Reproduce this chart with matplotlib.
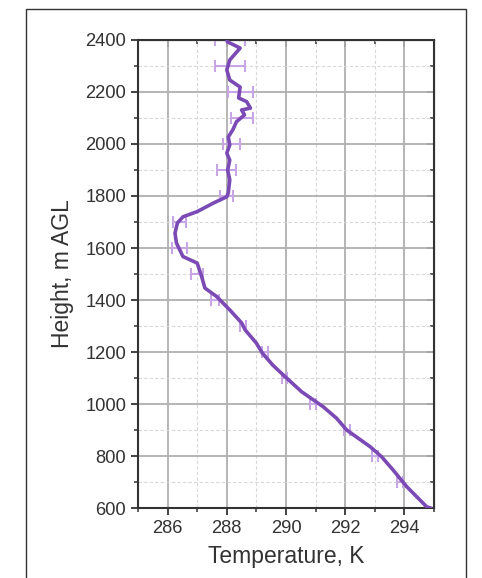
import numpy as np
import matplotlib.pyplot as plt
from matplotlib.patches import Rectangle
from matplotlib.ticker import MultipleLocator

plt.rcParams['font.family'] = ['Liberation Sans', 'DejaVu Sans']

# temperature profile
hauteur = [2400, 2393, 2369, 2323, 2285, 2246, 2219, 2177, 2163, 2138, 2131,
           2112, 2086, 2054, 2027, 1996, 1965, 1938, 1900, 1862, 1812, 1797,
           1773, 1740, 1720, 1696, 1657, 1619, 1567, 1542, 1490, 1446, 1413,
           1362, 1312, 1285, 1234, 1196, 1150, 1105, 1047, 990, 945, 900, 836,
           797, 746, 682, 605, 600]
temperature = [288.0, 288.02, 288.45, 288.1, 288.0, 288.1, 288.45, 288.4,
               288.67, 288.8, 288.5, 288.6, 288.33, 288.2, 288.05, 288.1,
               288.0, 288.1, 288.03, 288.1, 288.05, 288.0, 287.55, 287.0,
               286.52, 286.33, 286.25, 286.3, 286.52, 287.0, 287.15, 287.26,
               287.66, 288.1, 288.5, 288.62, 289.0, 289.2, 289.55, 289.97,
               290.53, 291.25, 291.71, 292.05, 292.84, 293.23, 293.62, 294.08,
               294.75, 294.88]

# barres d'erreur tous les 100 m
err_h = [2400, 2300, 2200, 2100, 2000, 1900, 1800, 1700, 1600, 1500, 1400,
         1300, 1200, 1100, 1000, 900, 800, 700]
err_T = [288.1, 288.1, 288.45, 288.5, 288.15, 288.0, 288.0, 286.4, 286.4,
         287.0, 287.6, 288.55, 289.3, 289.95, 290.9, 292.05, 293.0, 293.85]
err_dT = [0.5, 0.5, 0.42, 0.37, 0.28, 0.32, 0.22, 0.22, 0.25, 0.2, 0.12,
          0.1, 0.1, 0.1, 0.1, 0.1, 0.1, 0.1]

fig = plt.figure(figsize=(4.82, 5.78), dpi=100)
ax = fig.add_axes([0.2863, 0.1211, 0.6141, 0.8097])

# cadre exterieur
fig.patches.append(Rectangle((26 / 482, -0.1), 440 / 482, 1.1 - 9 / 578,
                             transform=fig.transFigure, fill=False,
                             edgecolor='#333333', linewidth=1.0))

ax.errorbar(err_T, err_h, xerr=err_dT, fmt='none', ecolor='#c8a6e6',
            elinewidth=1.5, capsize=4, capthick=1.5, zorder=2)
ax.plot(temperature, hauteur, color='#7b4ab5', linewidth=2.6, zorder=3,
        solid_joinstyle='round')

ax.set_xlim(285, 295)
ax.set_ylim(600, 2400)
ax.xaxis.set_major_locator(MultipleLocator(2))
ax.xaxis.set_minor_locator(MultipleLocator(1))
ax.yaxis.set_major_locator(MultipleLocator(200))
ax.yaxis.set_minor_locator(MultipleLocator(100))

ax.grid(True, which='major', color='#b0b0b0', linewidth=1.3)
ax.grid(True, which='minor', color='#d8d8d8', linewidth=0.8, linestyle=(0, (3, 2)))
ax.set_axisbelow(True)

for s in ax.spines.values():
    s.set_color('#333333')
    s.set_linewidth(1.5)

ax.tick_params(which='both', direction='out', top=False, right=False,
               colors='#333333', labelsize=13.2)
ax.tick_params(which='major', length=5, width=1.3)
ax.tick_params(which='minor', length=3, width=1.1)

# ticks interieurs en haut et a droite
ax_top = ax.secondary_xaxis('top')
ax_top.set_xticks(np.arange(286, 295, 2))
ax_top.xaxis.set_minor_locator(MultipleLocator(1))
ax_top.tick_params(which='both', direction='in', labeltop=False, colors='#333333')
ax_top.tick_params(which='major', length=5, width=1.3)
ax_top.tick_params(which='minor', length=3, width=1.1)
ax_right = ax.secondary_yaxis('right')
ax_right.set_yticks(np.arange(600, 2401, 200))
ax_right.yaxis.set_minor_locator(MultipleLocator(100))
ax_right.tick_params(which='both', direction='in', labelright=False, colors='#333333')
ax_right.tick_params(which='major', length=5, width=1.3)
ax_right.tick_params(which='minor', length=3, width=1.1)

ax.set_xlabel('Temperature, K', fontsize=16.5, color='#333333', labelpad=6)
ax.set_ylabel('Height, m AGL', fontsize=16.5, color='#333333', labelpad=8)

fig.savefig('out.png', dpi=100)
